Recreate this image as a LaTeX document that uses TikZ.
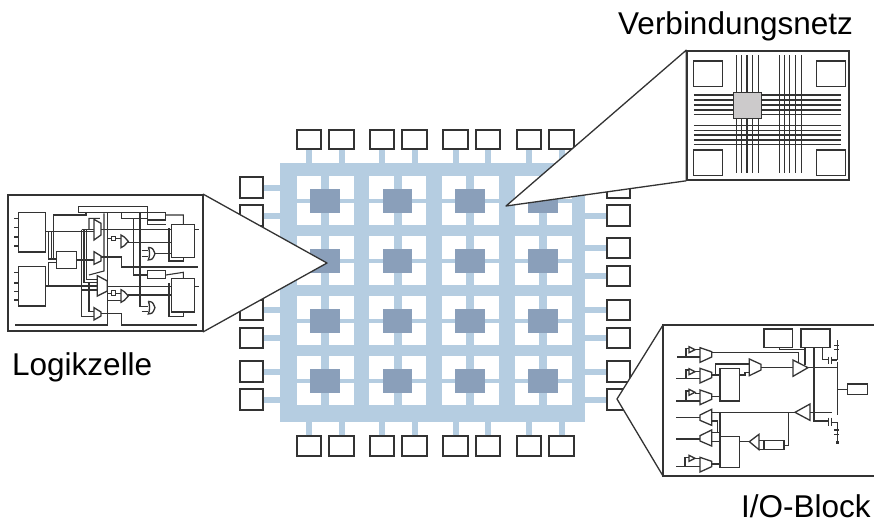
\documentclass[tikz,border=0pt]{standalone}
\usepackage{fontspec}
\setmainfont{Liberation Sans}
\definecolor{fabblue}{HTML}{B5CDE1}
\definecolor{clbblue}{HTML}{8A9FBA}
\definecolor{edge}{HTML}{333333}
\definecolor{chipgray}{HTML}{CCCACB}

\begin{document}
\begin{tikzpicture}[x=1pt, y=-1pt, font=\fontsize{31.5}{36}\selectfont,
  fabric/.style={fill=fabblue, minimum width=305pt, minimum height=259pt, inner sep=0pt},
  cell/.style={fill=white, minimum width=24.5pt, minimum height=22.5pt, inner sep=0pt},
  clb/.style={fill=clbblue, minimum width=29.5pt, minimum height=24pt, inner sep=0pt},
  pad/.style={draw=edge, line width=1.6pt, fill=white, minimum width=24.5pt, minimum height=19.5pt, inner sep=0pt},
  sidepad/.style={pad, minimum width=23pt, minimum height=20.5pt},
  stub/.style={draw=fabblue, line width=6pt},
  callout/.style={draw=edge, line width=1.3pt, fill=white, line join=round},
  frame/.style={draw=edge, line width=1.6pt, fill=white},
  wire/.style={draw=edge, line width=1.1pt},
  part/.style={draw=edge, line width=1.3pt, fill=white},
  bus/.style={draw=edge, line width=1.6pt},
  label/.style={anchor=base west, inner sep=0pt}]
\useasboundingbox (0,0) rectangle (874,523);

% programmable fabric
\node[fabric] (fab) at (432.5,292.5) {};
\foreach \cx [count=\c] in {325,397.5,470,543} {
  \foreach \cy [count=\r] in {201,261,321,381} {
    \node[cell] at (\cx-16,\cy-13.5) {}; \node[cell] at (\cx+16.5,\cy-13.5) {};
    \node[cell] at (\cx-16,\cy+13) {}; \node[cell] at (\cx+16.5,\cy+13) {};
    \node[clb] (clb\r\c) at (\cx,\cy) {};
  }
}

% pads round the fabric
\foreach \px [count=\i] in {309,341.5,382,414.5,455.5,488,529,561.5} {
  \node[pad] (top\i) at (\px,139.5) {}; \node[pad] (bot\i) at (\px,446) {};
  \draw[stub] (top\i.south) -- (top\i.south |- fab.north);
  \draw[stub] (bot\i.north) -- (bot\i.north |- fab.south);
}
\foreach \py [count=\i] in {187.5,215.5,248,276,310,338,371.5,399.5} {
  \node[sidepad] (lft\i) at (251.5,\py) {}; \node[sidepad] (rgt\i) at (618.5,\py) {};
  \draw[stub] (lft\i.east) -- (lft\i.east -| fab.west);
  \draw[stub] (rgt\i.west) -- (rgt\i.west -| fab.east);
}

% enlargement: logic cell
\coordinate (logA) at (327,263);
\node[frame, minimum width=194.5pt, minimum height=136pt, inner sep=0pt] (logBox) at (105.25,263) {};
\draw[callout] (logBox.north east) -- (logA) -- (logBox.south east) -- cycle;
\begin{scope}[shift={(0,185)}, x=.3333pt, y=-.3333pt]
\foreach \ty in {100,128,156,183,263,294,320,345} \draw[wire] (43,\ty) -- (55,\ty);
\draw[wire] (137,140) -- (282,140) (146,140) -- (146,222) -- (170,222) (155,140) -- (155,222);
\draw[wire] (137,303) -- (292,303) (146,303) -- (146,232) -- (170,232);
\draw[wire] (160,222) -- (160,90) -- (258,90) -- (258,84);
\draw[wire] (229,225) -- (282,225) (303,216) -- (365,216) -- (365,246) -- (595,246);
\draw[bus] (245,134) -- (282,134) (245,134) -- (245,395) -- (282,395);
\draw[wire] (252,134) -- (252,292) -- (292,292) (260,134) -- (260,283) -- (292,283);
\draw[wire] (267,134) -- (267,100) -- (300,100) (267,270) -- (312,258) -- (312,85);
\draw[wire] (267,292) -- (267,380) -- (282,380) (245,315) -- (292,315);
\draw[wire] (303,133) -- (597,133) (303,385) -- (365,385) -- (365,420) -- (590,420);
\draw[bus] (46,420) -- (322,420) -- (322,85);
\draw[wire] (322,161) -- (334,161) (346,161) -- (363,161) (385,172) -- (515,172);
\draw[wire] (322,325) -- (334,325) (346,325) -- (363,325) (322,347) -- (363,347) (383,330) -- (515,330) (322,305) -- (597,305);
\draw[wire] (400,100) -- (400,270) -- (443,270) (420,85) -- (420,365) -- (445,365) (465,205) -- (515,205);
\draw[wire] (365,85) -- (365,100) -- (443,100) -- (443,118) -- (498,118) (425,197) -- (445,197) (425,215) -- (445,215) (425,380) -- (445,380);
\draw[wire] (498,270) -- (550,262) -- (550,281) (498,90) -- (550,90) -- (550,119);
\draw[wire] (507,130) -- (507,228) -- (550,228) -- (550,217) (507,295) -- (507,395) -- (550,395) -- (550,381);
\node[part, minimum width=27.3pt, minimum height=39.3pt, inner sep=0pt] (lutA) at (96,142) {};
\node[part, minimum width=27.3pt, minimum height=39.3pt, inner sep=0pt] (lutB) at (96,304) {};
\node[part, minimum width=19.7pt, minimum height=17pt, inner sep=0pt] (midBox) at (199.5,224.5) {};
\node[part, minimum width=22.7pt, minimum height=32.7pt, inner sep=0pt] (ffA) at (549,168) {};
\node[part, minimum width=22.7pt, minimum height=33.3pt, inner sep=0pt] (ffB) at (549,331) {};
\node[part, minimum width=18.3pt, minimum height=7.3pt, inner sep=0pt] (regA) at (470,94) {};
\node[part, minimum width=18.3pt, minimum height=8pt, inner sep=0pt] (regB) at (470,269) {};
\node[part, minimum width=69.3pt, minimum height=6.3pt, inner sep=0pt, fill=none] (topBar) at (339,74) {};
\node[part, minimum width=4pt, minimum height=4.3pt, inner sep=0pt] (dotA) at (340,161) {};
\node[part, minimum width=4pt, minimum height=4.7pt, inner sep=0pt] (dotB) at (340,324) {};
\draw[part] (282,103) -- (303,115) -- (303,150) -- (282,165) -- cycle;
\draw[part] (282,200) -- (303,213) -- (303,228) -- (282,238) -- cycle;
\draw[part] (292,272) -- (322,288) -- (322,318) -- (292,333) -- cycle;
\draw[part] (282,368) -- (303,381) -- (303,393) -- (282,405) -- cycle;
\foreach \gy in {169,333} \draw[part] (363,\gy-19) -- (373,\gy-13) -- (385,\gy) -- (373,\gy+13) -- (363,\gy+19) -- cycle;
\foreach \gy in {206,368} \draw[part] (445,\gy-19) .. controls (458,\gy-17) .. (465,\gy) .. controls (458,\gy+17) .. (445,\gy+19) .. controls (450,\gy+8) and (450,\gy-8) .. (445,\gy-19);
\end{scope}

% enlargement: interconnect
\coordinate (netA) at (506,206);
\node[frame, minimum width=162pt, minimum height=129pt, inner sep=0pt] (netBox) at (768,115.5) {};
\draw[callout] (netBox.north west) -- (netA) -- (netBox.south west) -- cycle;
\begin{scope}[shift={(500,40)}, x=.3333pt, y=-.3333pt]
\foreach \lx in {710,725,741,757,775,839,853,869,886,904} \draw[bus] (\lx,45) -- (\lx,400);
\foreach \ly in {165,180,195,210,224,257,272,285,300,314} \draw[bus] (582,\ly) -- (1022,\ly);
\foreach \qx/\qy [count=\i] in {624/101,993/101,624/368,993/368}
  \node[part, line width=1.4pt, minimum width=28.7pt, minimum height=25.3pt, inner sep=0pt] (sw\i) at (\qx,\qy) {};
\node[part, line width=1.6pt, fill=chipgray, minimum width=28pt, minimum height=25.7pt, inner sep=0pt] (chip) at (743,196.5) {};
\end{scope}

% enlargement: I/O block
\coordinate (ioA) at (617,399);
\coordinate (ioTop) at (663,325); \coordinate (ioBot) at (663,476);
\fill[white] (ioA) -- (ioTop) -- (874,325) -- (874,476) -- (ioBot) -- cycle;
\draw[callout, fill=none] (ioTop) -- (ioA) -- (ioBot);
\draw[edge, line width=1.6pt] (874,325) -- (ioTop) -- (ioBot) -- (874,476);
\begin{scope}[shift={(610,315)}, x=.3333pt, y=-.3333pt]
\draw[wire] (305,112) -- (565,112) -- (565,140) (202,126) -- (270,126) (228,126) -- (228,100) -- (237,100) (255,104) -- (270,104);
\draw[wire] (198,191) -- (270,191) (228,191) -- (228,165) -- (237,165) (255,170) -- (270,170) (305,180) -- (330,180);
\draw[wire] (198,258) -- (270,258) (228,258) -- (228,228) -- (237,228) (255,235) -- (270,235) (305,245) -- (330,245);
\draw[wire] (316,180) -- (316,147) -- (418,147) (388,180) -- (405,180) -- (405,172) -- (418,172) (453,157) -- (549,157);
\draw[wire] (594,157) -- (682,157) (682,140) -- (682,300) (682,224) -- (712,224) (612,98) -- (612,318) -- (655,318);
\draw[wire] (585,98) -- (585,150) (508,98) -- (508,103) -- (585,103) (638,98) -- (638,133) -- (655,133);
\draw[wire] (600,292) -- (665,292) (555,292) -- (305,292) (330,292) -- (330,365) (535,292) -- (535,392) -- (522,392);
\draw[wire] (198,308) -- (270,308) (198,372) -- (270,372) (198,455) -- (270,455) (225,455) -- (225,427) -- (237,427) (255,430) -- (270,430);
\draw[wire] (305,318) -- (322,318) -- (322,355) (305,352) -- (330,352) (305,380) -- (330,380) (305,447) -- (330,447);
\draw[wire] (388,380) -- (418,380) (447,376) -- (462,376) (447,404) -- (462,404);
\draw[bus] (665,125) -- (665,148) (665,308) -- (665,332) (655,125) -- (655,148) (655,308) -- (655,332) (665,135) -- (682,135) (665,322) -- (682,322);
\draw[wire] (682,75) -- (682,135) (682,322) -- (682,380);
\draw[bus] (672,92) -- (688,92) (672,104) -- (688,104) (672,345) -- (688,345) (672,358) -- (688,358);
\fill[edge] (677,378) rectangle (687,388);
\node[part, minimum width=28.7pt, minimum height=18.7pt, inner sep=0pt] (oeBox) at (505,70) {};
\node[part, minimum width=29pt, minimum height=18.7pt, inner sep=0pt] (ctlBox) at (616.5,70) {};
\node[part, minimum width=20pt, minimum height=10.3pt, inner sep=0pt] (ioPin) at (742,222.5) {};
\node[part, minimum width=19.3pt, minimum height=32.7pt, inner sep=0pt] (ioRegA) at (359,209) {};
\node[part, minimum width=19.3pt, minimum height=31pt, inner sep=0pt] (ioRegB) at (359,411.5) {};
\node[part, minimum width=20pt, minimum height=9.3pt, inner sep=0pt] (dlyBox) at (492,390) {};
\foreach \gy in {118,180,245,447} \draw[part] (270,\gy-20) -- (305,\gy-8) -- (305,\gy+8) -- (270,\gy+24) -- cycle;
\foreach \gy in {104,170,232,430} \draw[part] (237,\gy-9) -- (255,\gy) -- (237,\gy+9) -- cycle;
\foreach \gy in {308,370} \draw[part] (305,\gy-25) -- (270,\gy-8) -- (270,\gy+8) -- (305,\gy+23) -- cycle;
\draw[part] (418,132) -- (453,148) -- (453,165) -- (418,182) -- cycle;
\draw[part] (549,135) -- (594,158) -- (549,184) -- cycle;
\draw[part] (600,267) -- (600,316) -- (555,292) -- cycle;
\draw[part] (447,358) -- (418,380) -- (447,404) -- cycle;
\end{scope}

% labels
\node[label] (netText) at (618,34) {Verbindungsnetz};
\node[label] (logText) at (12,375) {Logikzelle};
\node[label] (ioText) at (741,517) {I/O-Block};
\end{tikzpicture}
\end{document}
